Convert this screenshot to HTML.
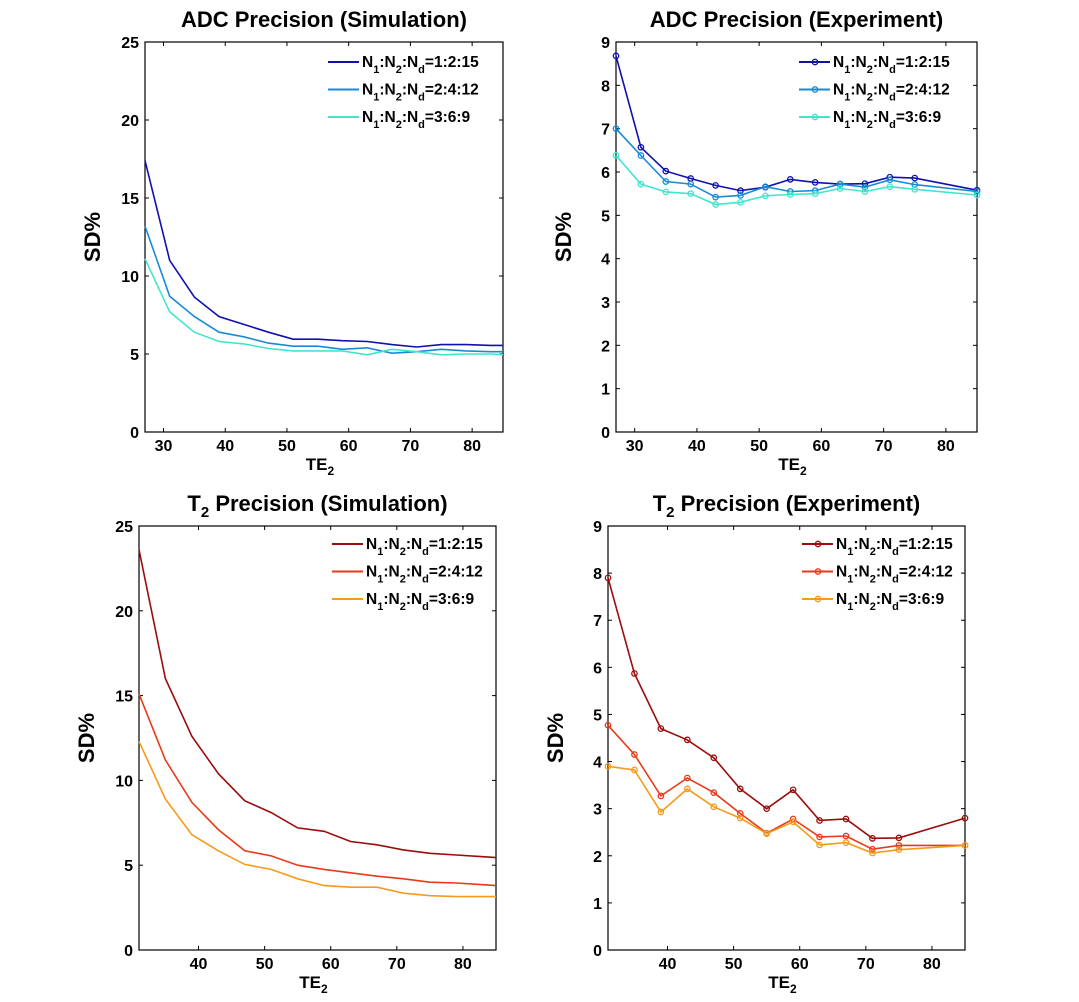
<!DOCTYPE html>
<html><head><meta charset="utf-8"><style>
body{margin:0;background:#fff;width:1079px;height:1002px;overflow:hidden}
svg{display:block;font-family:"Liberation Sans",Arial,sans-serif;font-weight:bold}
</style></head><body>
<svg id="chart" width="1079" height="1002"></svg>
<script>
const te27 = [27,31,35,39,43,47,51,55,59,63,67,71,75,79,83,85];
const adcSim1 = [17.4,11.0,8.65,7.4,6.9,6.4,5.95,5.95,5.85,5.8,5.6,5.45,5.6,5.6,5.55,5.55];
const adcSim2 = [13.2,8.7,7.4,6.4,6.1,5.7,5.5,5.5,5.3,5.4,5.05,5.15,5.3,5.2,5.15,5.15];
const adcSim3 = [11.1,7.7,6.4,5.8,5.65,5.35,5.2,5.2,5.2,4.95,5.3,5.15,4.95,5.0,5.0,4.95];
const teExpA = [27,31,35,39,43,47,51,55,59,63,67,71,75,85];
const adcExp1 = [8.68,6.57,6.02,5.85,5.69,5.57,5.65,5.83,5.76,5.72,5.73,5.88,5.86,5.58];
const adcExp2 = [7.0,6.38,5.78,5.72,5.42,5.46,5.66,5.55,5.57,5.72,5.65,5.82,5.71,5.55];
const adcExp3 = [6.38,5.72,5.54,5.5,5.25,5.3,5.45,5.48,5.5,5.62,5.55,5.66,5.6,5.47];
const te31 = [31,35,39,43,47,51,55,59,63,67,71,75,79,83,85];
const t2Sim1 = [23.6,16.0,12.6,10.4,8.8,8.1,7.2,7.0,6.4,6.2,5.9,5.7,5.6,5.5,5.45];
const t2Sim2 = [15.1,11.2,8.7,7.1,5.85,5.55,5.0,4.75,4.55,4.35,4.2,4.0,3.95,3.85,3.8];
const t2Sim3 = [12.3,8.9,6.8,5.85,5.05,4.75,4.2,3.8,3.7,3.7,3.35,3.2,3.15,3.15,3.15];
const teExpT = [31,35,39,43,47,51,55,59,63,67,71,75,85];
const t2Exp1 = [7.9,5.87,4.7,4.46,4.08,3.42,3.0,3.4,2.75,2.78,2.37,2.38,2.8];
const t2Exp2 = [4.77,4.15,3.27,3.65,3.34,2.9,2.48,2.78,2.4,2.42,2.14,2.22,2.22];
const t2Exp3 = [3.9,3.82,2.93,3.42,3.04,2.8,2.47,2.72,2.23,2.28,2.06,2.13,2.22];
const xTicks = [30,40,50,60,70,80];
const yTicks25 = [0,5,10,15,20,25];
const yTicks9 = [0,1,2,3,4,5,6,7,8,9];
const legendLabels = ["1:2:15","2:4:12","3:6:9"];

const NS="http://www.w3.org/2000/svg";
const svg=document.getElementById('chart');
function mk(tag,attrs,parent){const e=document.createElementNS(NS,tag);for(const k in attrs)e.setAttribute(k,attrs[k]);(parent||svg).appendChild(e);return e;}

function panel(cfg){
  const g=mk('g',{});
  
  
  const {L,R,T,B,xmin,xmax,ymax}=cfg;
  const sx=v=>L+(v-xmin)/(xmax-xmin)*(R-L);
  const sy=v=>B-v/ymax*(B-T);
  const t=mk('text',{x:(L+R)/2,y:T-15,'text-anchor':'middle','font-size':22},g);
  
  
  if(cfg.t2){t.innerHTML='T<tspan font-size="15" dy="6">2</tspan><tspan dy="-6"> '+cfg.title+'</tspan>';}
  else t.textContent=cfg.title;
  const box=mk('rect',{x:L,y:T,width:R-L,height:B-T,fill:'none',stroke:'#000','stroke-width':1.2},g);
  
  
  xTicks.filter(v=>v>xmin&&v<xmax).forEach(v=>{
    const x=sx(v);
    mk('line',{x1:x,x2:x,y1:B,y2:B-4,stroke:'#000'},g);
    mk('line',{x1:x,x2:x,y1:T,y2:T+4,stroke:'#000'},g);
    const tl=mk('text',{x:x,y:B+19,'text-anchor':'middle','font-size':16},g);
    
    
    tl.textContent=v;
  });
  cfg.yTicks.forEach(v=>{
    const y=sy(v);
    mk('line',{x1:L,x2:L+4,y1:y,y2:y,stroke:'#000'},g);
    mk('line',{x1:R,x2:R-4,y1:y,y2:y,stroke:'#000'},g);
    const tl=mk('text',{x:L-6,y:y+6,'text-anchor':'end','font-size':16},g);
    
    
    tl.textContent=v;
  });
  const xl=mk('text',{x:(L+R)/2-4,y:B+38,'text-anchor':'middle','font-size':17},g);
  
  
  xl.innerHTML='TE<tspan font-size="12" dy="5">2</tspan>';
  const yx=L-45, yy=(T+B)/2;
  const yl=mk('text',{x:yx,y:yy,'text-anchor':'middle','font-size':22,transform:`rotate(-90 ${yx} ${yy})`},g);
  
  
  yl.textContent='SD%';
  cfg.series.forEach((s,i)=>{
    const pts=s.map((v,j)=>sx(cfg.x[j]).toFixed(1)+','+sy(v).toFixed(1)).join(' ');
    const pl=mk('polyline',{points:pts,fill:'none',stroke:cfg.colors[i],'stroke-width':1.6},g);
    
    
    if(cfg.markers){
      s.forEach((v,j)=>{
        const c=mk('circle',{cx:sx(cfg.x[j]),cy:sy(v),r:2.7,fill:'none',stroke:cfg.colors[i],'stroke-width':1.3},g);
        
        
      });
    }
    const ly=cfg.legY+i*27.5, lx=cfg.legX;
    const le=mk('g',{},g);
    
    
    mk('line',{x1:lx,x2:lx+31,y1:ly,y2:ly,stroke:cfg.colors[i],'stroke-width':2},le);
    if(cfg.markers) mk('circle',{cx:lx+16,cy:ly,r:2.7,fill:'none',stroke:cfg.colors[i],'stroke-width':1.3},le);
    const lt=mk('text',{x:lx+34,y:ly+5,'font-size':15.5},le);
    lt.innerHTML='N<tspan font-size="11" dy="6">1</tspan><tspan dy="-6">:N</tspan><tspan font-size="11" dy="6">2</tspan><tspan dy="-6">:N</tspan><tspan font-size="11" dy="6">d</tspan><tspan dy="-6">='+legendLabels[i]+'</tspan>';
  });
}
const blues=['#1010b0','#1a8ad6','#40e6cc'];
const reds=['#9c0c0c','#e83a1a','#f59a1a'];
panel({name:'adc-simulation-panel',title:'ADC Precision (Simulation)',L:145,R:503,T:42,B:432,xmin:27,xmax:85,ymax:25,yTicks:yTicks25,x:te27,series:[adcSim1,adcSim2,adcSim3],colors:blues,markers:false,legX:328,legY:62});
panel({name:'adc-experiment-panel',title:'ADC Precision (Experiment)',L:616,R:977,T:42,B:432,xmin:27,xmax:85,ymax:9,yTicks:yTicks9,x:teExpA,series:[adcExp1,adcExp2,adcExp3],colors:blues,markers:true,legX:799,legY:62});
panel({name:'t2-simulation-panel',title:'Precision (Simulation)',t2:true,L:139,R:496,T:526,B:950,xmin:31,xmax:85,ymax:25,yTicks:yTicks25,x:te31,series:[t2Sim1,t2Sim2,t2Sim3],colors:reds,markers:false,legX:332,legY:544});
panel({name:'t2-experiment-panel',title:'Precision (Experiment)',t2:true,L:608,R:965,T:526,B:950,xmin:31,xmax:85,ymax:9,yTicks:yTicks9,x:teExpT,series:[t2Exp1,t2Exp2,t2Exp3],colors:reds,markers:true,legX:802,legY:544});
</script>
</body></html>
